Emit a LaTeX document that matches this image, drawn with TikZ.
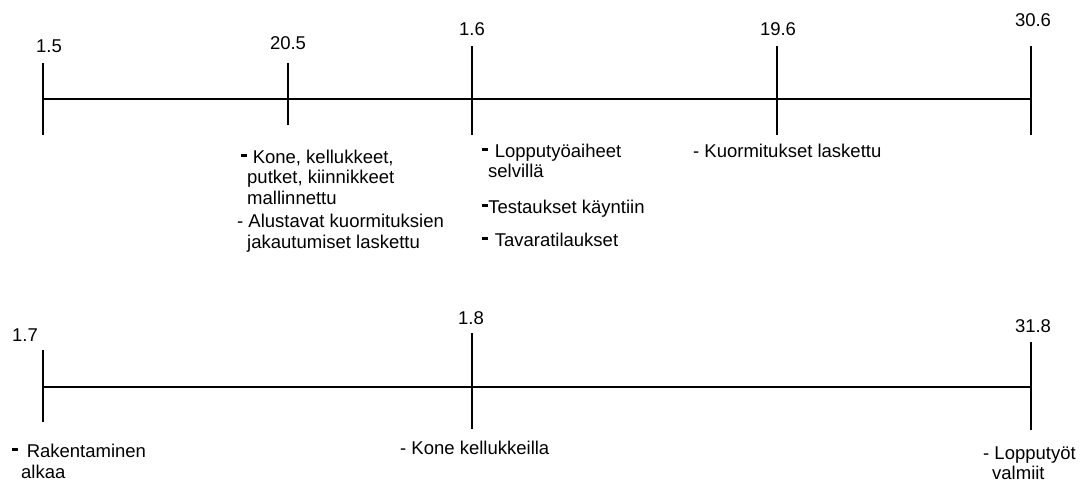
\documentclass[tikz,border=0pt]{standalone}
\usepackage{fontspec}
\setmainfont{Liberation Sans}
% heavy raised dash used in front of some notes
\newcommand\bdash{\rule[0.35em]{0.3em}{0.17em}}
\begin{document}
\begin{tikzpicture}[x=1pt,y=-1pt,
  axis/.style={line width=2pt},
  tick/.style={line width=1.3pt},
  lbl/.style={font=\fontsize{18.5}{20.2}\selectfont, inner sep=0pt, align=left, anchor=base west},
  datelbl/.style={font=\fontsize{18.5}{20.2}\selectfont, inner sep=0pt, anchor=base}]
\useasboundingbox (0,0) rectangle (1087,483);

% upper timeline
\coordinate (t1s) at (43,63);   \coordinate (t1e) at (43,135);
\coordinate (t2s) at (288,63);  \coordinate (t2e) at (288,125);
\coordinate (t3s) at (472,46);  \coordinate (t3e) at (472,135);
\coordinate (t4s) at (777,46);  \coordinate (t4e) at (777,135);
\coordinate (t5s) at (1031,46); \coordinate (t5e) at (1031,135);
\coordinate (ua) at (43,99);    \coordinate (ub) at (1031,99);
\draw[axis] (ua) -- (ub);
\foreach \i in {1,...,5} \draw[tick] (t\i s) -- (t\i e);

\node[datelbl] (d15) at (49,52.5) {1.5};
\node[datelbl] (d205) at (288,49) {20.5};
\node[datelbl] (d16) at (472,35) {1.6};
\node[datelbl] (d196) at (778,35) {19.6};
\node[datelbl] (d306) at (1033,26.5) {30.6};

% multi-line labels are anchored at the baseline of their last line
\node[lbl] (a1) at (241,204) {\bdash\hspace{6pt}Kone, kellukkeet,\\\hspace*{6pt}putket, kiinnikkeet\\\hspace*{6pt}mallinnettu};
\node[lbl] (a2) at (237,248) {- Alustavat kuormituksien\\\hspace*{10pt}jakautumiset laskettu};
\node[lbl] (b1) at (482,177.5) {\bdash\hspace{7pt}Lopputyöaiheet\\\hspace*{6pt}selvillä};
\node[lbl] (b2) at (482,213.5) {\bdash\hspace{0.5pt}Testaukset käyntiin};
\node[lbl] (b3) at (482,246.5) {\bdash\hspace{7pt}Tavaratilaukset};
\node[lbl] (c1) at (693,157.5) {- Kuormitukset laskettu};

% lower timeline
\coordinate (s1s) at (43,350);   \coordinate (s1e) at (43,422);
\coordinate (s2s) at (472,333);  \coordinate (s2e) at (472,429);
\coordinate (s3s) at (1031,342); \coordinate (s3e) at (1031,430);
\coordinate (la) at (43,387);    \coordinate (lb) at (1031,387);
\draw[axis] (la) -- (lb);
\foreach \i in {1,2,3} \draw[tick] (s\i s) -- (s\i e);

\node[datelbl] (d17) at (25,341) {1.7};
\node[datelbl] (d18) at (471,324) {1.8};
\node[datelbl] (d318) at (1033,332) {31.8};

\node[lbl] (e1) at (12,478) {\bdash\hspace{9pt}Rakentaminen\\\hspace*{9pt}alkaa};
\node[lbl] (e2) at (400,454) {- Kone kellukkeilla};
\node[lbl] (e3) at (983,479.5) {- Lopputyöt\\\hspace*{9pt}valmiit};
\end{tikzpicture}
\end{document}
